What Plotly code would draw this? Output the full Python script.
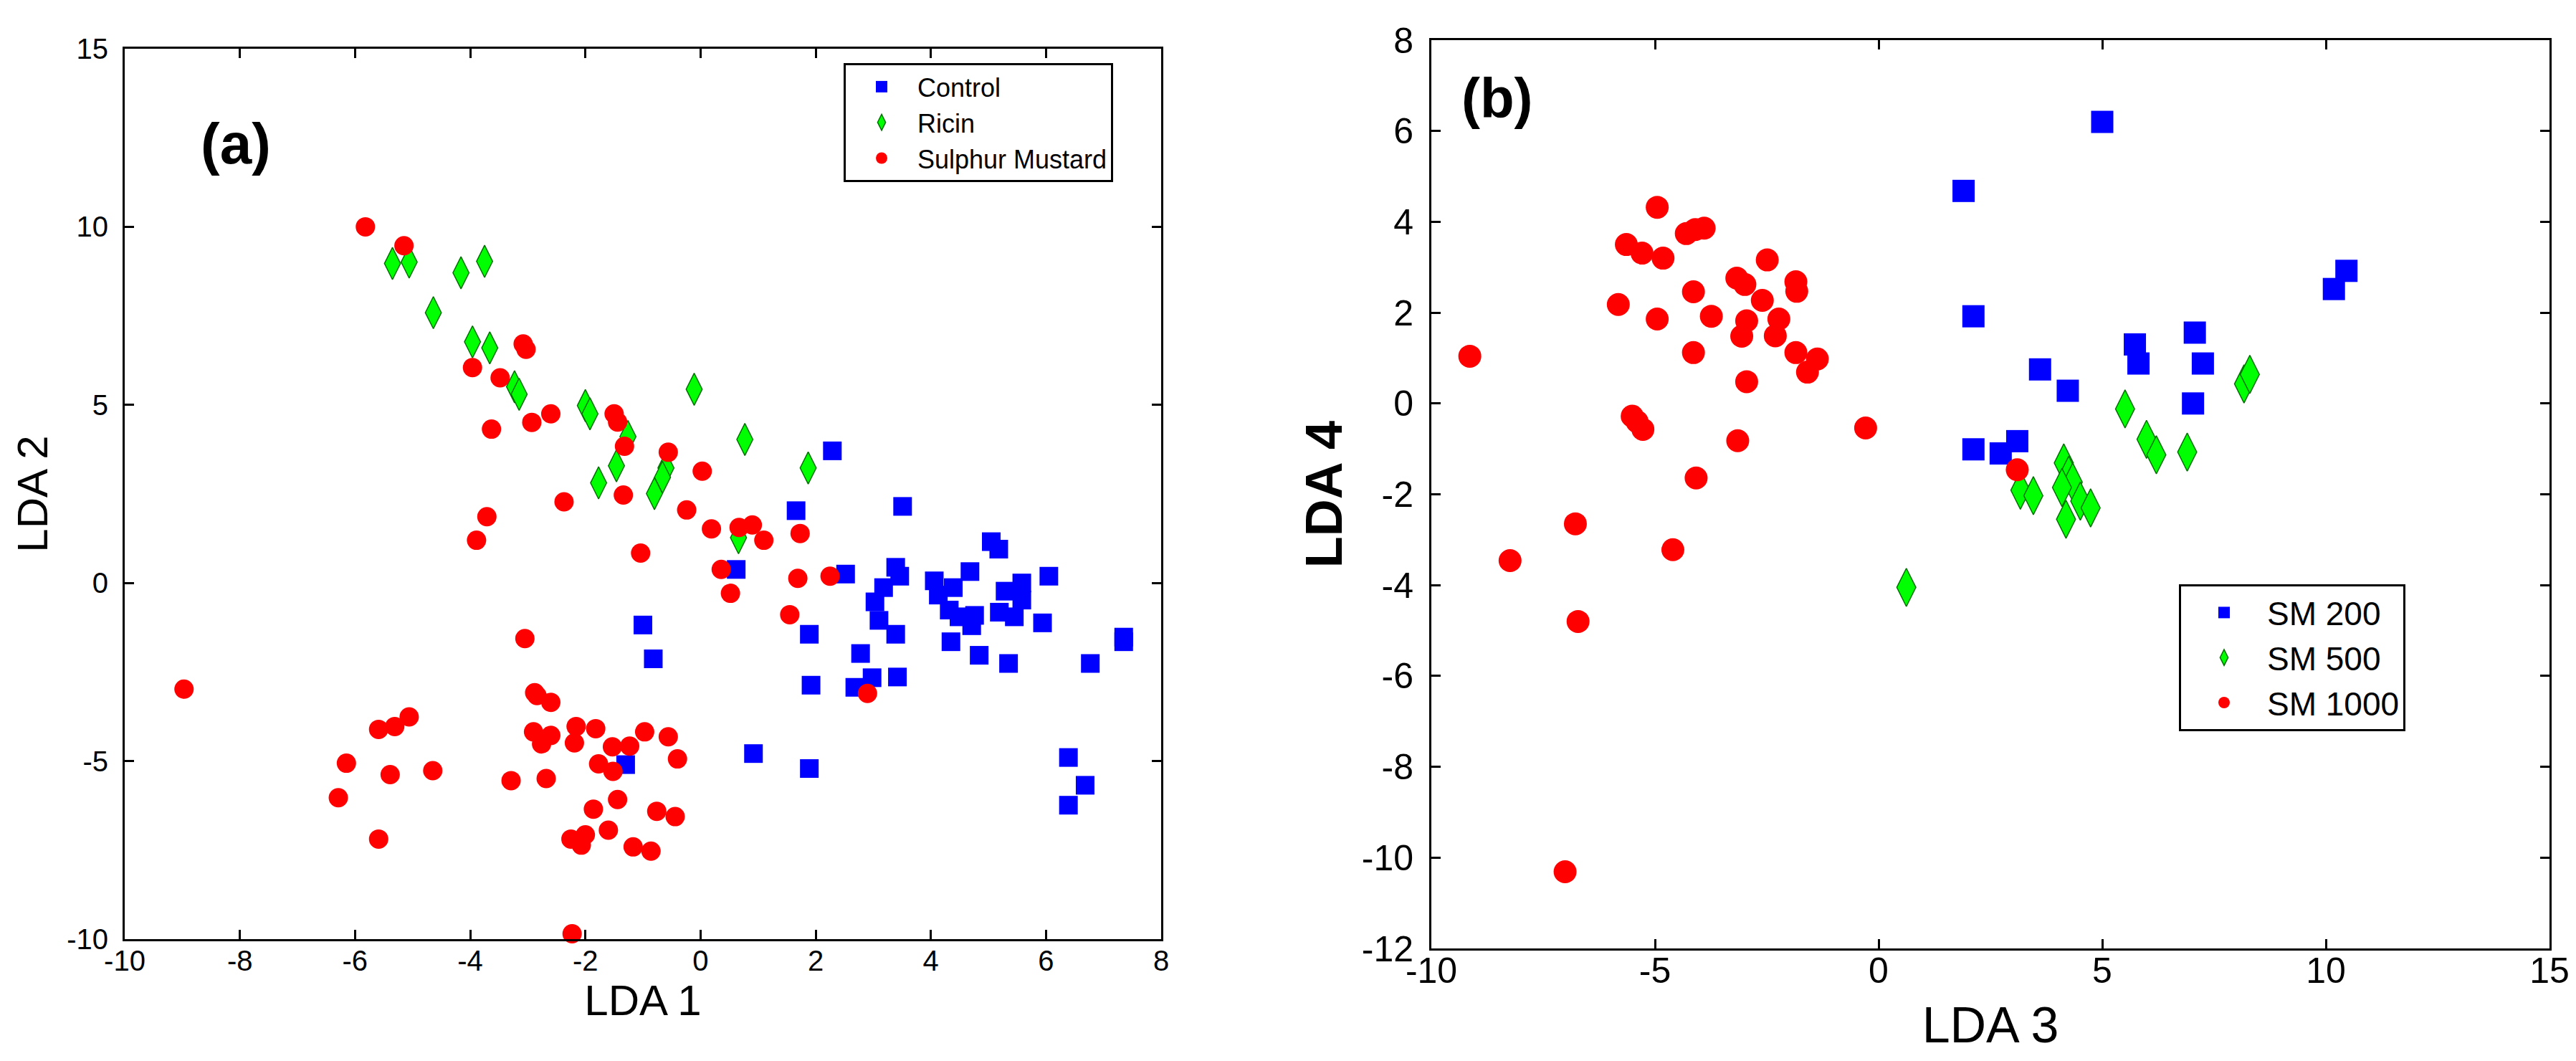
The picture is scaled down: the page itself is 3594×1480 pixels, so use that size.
import plotly.graph_objects as go

W, H = 3594, 1480

# ---- panel (a): LDA 1 vs LDA 2 ----
control_x = [2.29, 1.66, 3.51, 0.62, 2.52, 3.39, 3.46, 3.18, 4.06, 4.39, 4.68, 5.05,
             5.18, 5.29, 5.58, 5.58, 6.05, 3.03, 3.10, 3.39, 4.13, 4.32, 4.49, 4.76,
             4.71, 5.19, 5.45, 5.94, 7.35, 7.35, 4.35, 4.84, 5.35, 6.77, -1.00, -0.82,
             1.89, 2.78, 1.92, 2.68, 2.98, 3.42, 0.92, 1.89, -1.30, 6.39, 6.68, 6.39]
control_y = [3.71, 2.03, 2.15, 0.38, 0.25, 0.44, 0.19, -0.13, 0.06, -0.13, 0.32, 1.16,
             0.95, -0.23, 0.00, -0.48, 0.19, -0.53, -1.05, -1.44, -0.34, -0.76, -0.95, -0.91,
             -1.20, -0.82, -0.95, -1.12, -1.52, -1.65, -1.65, -2.03, -2.26, -2.26, -1.18, -2.13,
             -1.44, -1.98, -2.87, -2.93, -2.66, -2.64, -4.79, -5.21, -5.10, -4.90, -5.68, -6.24]

ricin_x = [-5.35, -5.06, -4.16, -3.75, -4.64, -3.96, -3.66, -3.23, -3.15, -2.00, -1.92,
           -1.26, -0.11, 0.77, -1.46, -1.77, -0.60, -0.66, -0.80, 1.87, 0.66]
ricin_y = [8.97, 9.01, 8.71, 9.03, 7.59, 6.77, 6.60, 5.51, 5.30, 4.98, 4.75,
           4.11, 5.44, 4.03, 3.29, 2.81, 3.23, 2.97, 2.51, 3.23, 1.27]

sm_x = [-5.82, -5.15, -3.08, -3.03, -3.96, -3.48, -3.63, -2.93, -2.60, -1.50, -1.44,
        -1.32, -0.56, 0.03, -2.37, -1.34, -3.71, -3.89, -1.04, -0.24, 0.19, 0.67,
        0.90, 1.10, 1.73, 0.36, 0.52, 1.69, 2.25, 1.55, 2.90, -3.05, -8.97, -2.88,
        -2.84, -2.60, -5.59, -5.31, -5.06, -6.15, -5.39, -4.65, -6.29, -5.59, -3.29,
        -2.68, -2.90, -2.76, -2.60, -2.16, -2.19, -1.82, -1.77, -1.53, -1.23, -0.97,
        -1.52, -0.56, -0.40, -1.44, -1.86, -0.76, -0.44, -2.25, -2.00, -2.07, -1.60,
        -1.17, -0.86, -2.23]
sm_y = [10.00, 9.47, 6.71, 6.56, 6.05, 5.76, 4.32, 4.51, 4.75, 4.75, 4.52,
        3.84, 3.67, 3.14, 2.28, 2.47, 1.86, 1.20, 0.84, 2.05, 1.52, 1.56,
        1.63, 1.20, 1.39, 0.38, -0.29, 0.13, 0.19, -0.89, -3.10, -1.56, -2.98, -3.08,
        -3.16, -3.35, -4.11, -4.03, -3.76, -5.06, -5.38, -5.27, -6.03, -7.19, -5.55,
        -5.49, -4.18, -4.52, -4.28, -4.03, -4.49, -4.09, -5.08, -4.60, -4.58, -4.18,
        -5.29, -4.32, -4.94, -6.08, -6.35, -6.41, -6.56, -7.19, -7.07, -7.36, -6.94,
        -7.41, -7.53, -9.85]

# ---- panel (b): LDA 3 vs LDA 4 ----
sm200_x = [5.00, 1.90, 2.12, 10.18, 10.46, 5.73, 5.81, 7.07, 7.25, 3.61, 4.23, 7.03,
           2.12, 2.73, 3.10]
sm200_y = [6.20, 4.68, 1.92, 2.52, 2.92, 1.30, 0.88, 1.56, 0.88, 0.75, 0.28, 0.00,
           -1.01, -1.10, -0.83]

sm500_x = [0.62, 3.17, 3.46, 4.14, 4.25, 4.34, 4.10, 4.19, 4.51, 4.74, 5.51, 5.99,
           6.21, 6.90, 8.17, 8.30]
sm500_y = [-4.05, -1.91, -2.03, -1.31, -1.58, -1.73, -1.85, -2.55, -2.15, -2.30, -0.12, -0.79,
           -1.13, -1.07, 0.43, 0.64]

sm1000_x = [-9.14, -8.24, -6.78, -6.72, -7.01, -4.60, -4.08, -5.51, -5.40, -5.27, -3.15,
            -0.29, 3.10, -5.82, -5.64, -5.29, -4.82, -4.95, -4.95, -4.14, -4.14, -4.30,
            -4.10, -3.90, -3.74, -3.17, -2.99, -2.49, -2.60, -2.95, -3.06, -2.95, -1.85,
            -1.83, -2.23, -2.31, -1.85, -1.59, -1.37]
sm1000_y = [1.04, -3.46, -2.65, -4.80, -10.31, -3.22, -1.64, -0.28, -0.40, -0.57, -0.82,
            -0.54, -1.46, 2.18, 3.50, 3.31, 3.20, 4.32, 1.86, 2.46, 1.12, 3.74,
            3.83, 3.86, 1.92, 2.76, 2.62, 3.16, 2.27, 1.82, 1.48, 0.48, 2.68,
            2.47, 1.86, 1.49, 1.12, 0.69, 0.98]

# tick values (labels written with a plain hyphen like the original figure)
ticks_x1 = [-10, -8, -6, -4, -2, 0, 2, 4, 6, 8]
ticks_y1 = [-10, -5, 0, 5, 10, 15]
ticks_x2 = [-10, -5, 0, 5, 10, 15]
ticks_y2 = [-12, -10, -8, -6, -4, -2, 0, 2, 4, 6, 8]

FONT = "Liberation Sans, Arial, sans-serif"
BLUE, GREEN, RED = "#0000ff", "#00ff00", "#ff0000"

fig = go.Figure()


def add_group(x, y, name, symbol, color, size, axis, legend, line_color=None):
    fig.add_trace(go.Scatter(
        x=x, y=y, mode="markers", name=name,
        xaxis="x" + axis, yaxis="y" + axis, legend=legend, cliponaxis=False,
        marker=dict(symbol=symbol, size=size, color=color,
                    line=dict(width=1.5 if line_color else 0,
                              color=line_color or color)),
    ))


add_group(control_x, control_y, "Control", "square", BLUE, 26, "", "legend")
add_group(ricin_x, ricin_y, "Ricin", "diamond-tall", GREEN, 32, "", "legend", "#007000")
add_group(sm_x, sm_y, "Sulphur Mustard", "circle", RED, 27, "", "legend")

add_group(sm200_x, sm200_y, "SM 200", "square", BLUE, 31, "2", "legend2")
add_group(sm500_x, sm500_y, "SM 500", "diamond-tall", GREEN, 38, "2", "legend2", "#007000")
add_group(sm1000_x, sm1000_y, "SM 1000", "circle", RED, 32, "2", "legend2")


def axis_style(tick_size, vals, rng):
    return dict(
        range=rng, tickmode="array", tickvals=vals,
        ticktext=[str(v) for v in vals],
        showline=True, linecolor="black", linewidth=3, mirror="allticks",
        ticks="inside", ticklen=13, tickwidth=3, tickcolor="black",
        showgrid=False, zeroline=False, automargin=False,
        tickfont=dict(family=FONT, size=tick_size, color="black"),
    )


xa = axis_style(40, ticks_x1, [-10, 8])
xa.update(domain=[166 / W, 1612 / W], anchor="y", ticklabelstandoff=-7,
          title=dict(text="LDA 1", font=dict(family=FONT, size=60, color="black"), standoff=9))
ya = axis_style(40, ticks_y1, [-10, 15])
ya.update(domain=[1 - 1302 / H, 1 - 60 / H], anchor="x", ticklabelstandoff=12,
          title=dict(text="LDA 2", font=dict(family=FONT, size=60, color="black"), standoff=8))

xb = axis_style(50, ticks_x2, [-10, 15])
xb.update(domain=[1989 / W, 3549 / W], anchor="y2", ticklabelstandoff=-15,
          title=dict(text="LDA 3", font=dict(family=FONT, size=70, color="black"), standoff=24))
yb = axis_style(50, ticks_y2, [-12, 8])
yb.update(domain=[1 - 1315 / H, 1 - 48 / H], anchor="x2", ticklabelstandoff=12,
          title=dict(text="<b>LDA 4</b>", font=dict(family=FONT, size=72, color="black"), standoff=4))

legend_common = dict(bgcolor="white", bordercolor="black", borderwidth=3,
                     xanchor="left", yanchor="top", itemsizing="trace",
                     tracegroupgap=0)

fig.update_layout(
    width=W, height=H,
    margin=dict(l=0, r=0, t=0, b=0),
    paper_bgcolor="white", plot_bgcolor="white",
    font=dict(family=FONT, color="black"),
    xaxis=xa, yaxis=ya, xaxis2=xb, yaxis2=yb,
    legend=dict(x=1169 / W, y=1 - 80 / H, itemwidth=90,
                font=dict(family=FONT, size=36, color="black"), **legend_common),
    legend2=dict(x=3032 / W, y=1 - 807 / H, itemwidth=110,
                 font=dict(family=FONT, size=46, color="black"), **legend_common),
    annotations=[
        dict(text="<b>(a)</b>", x=(321 - 166) / (1612 - 166), y=1 - (192 - 60) / (1302 - 60),
             xref="x domain", yref="y domain", xanchor="center", yanchor="middle",
             showarrow=False, font=dict(family=FONT, size=80, color="black")),
        dict(text="<b>(b)</b>", x=(2081 - 1989) / (3549 - 1989), y=1 - (129 - 48) / (1315 - 48),
             xref="x2 domain", yref="y2 domain", xanchor="center", yanchor="middle",
             showarrow=False, font=dict(family=FONT, size=78, color="black")),
    ],
)

fig.write_html("out.html")
